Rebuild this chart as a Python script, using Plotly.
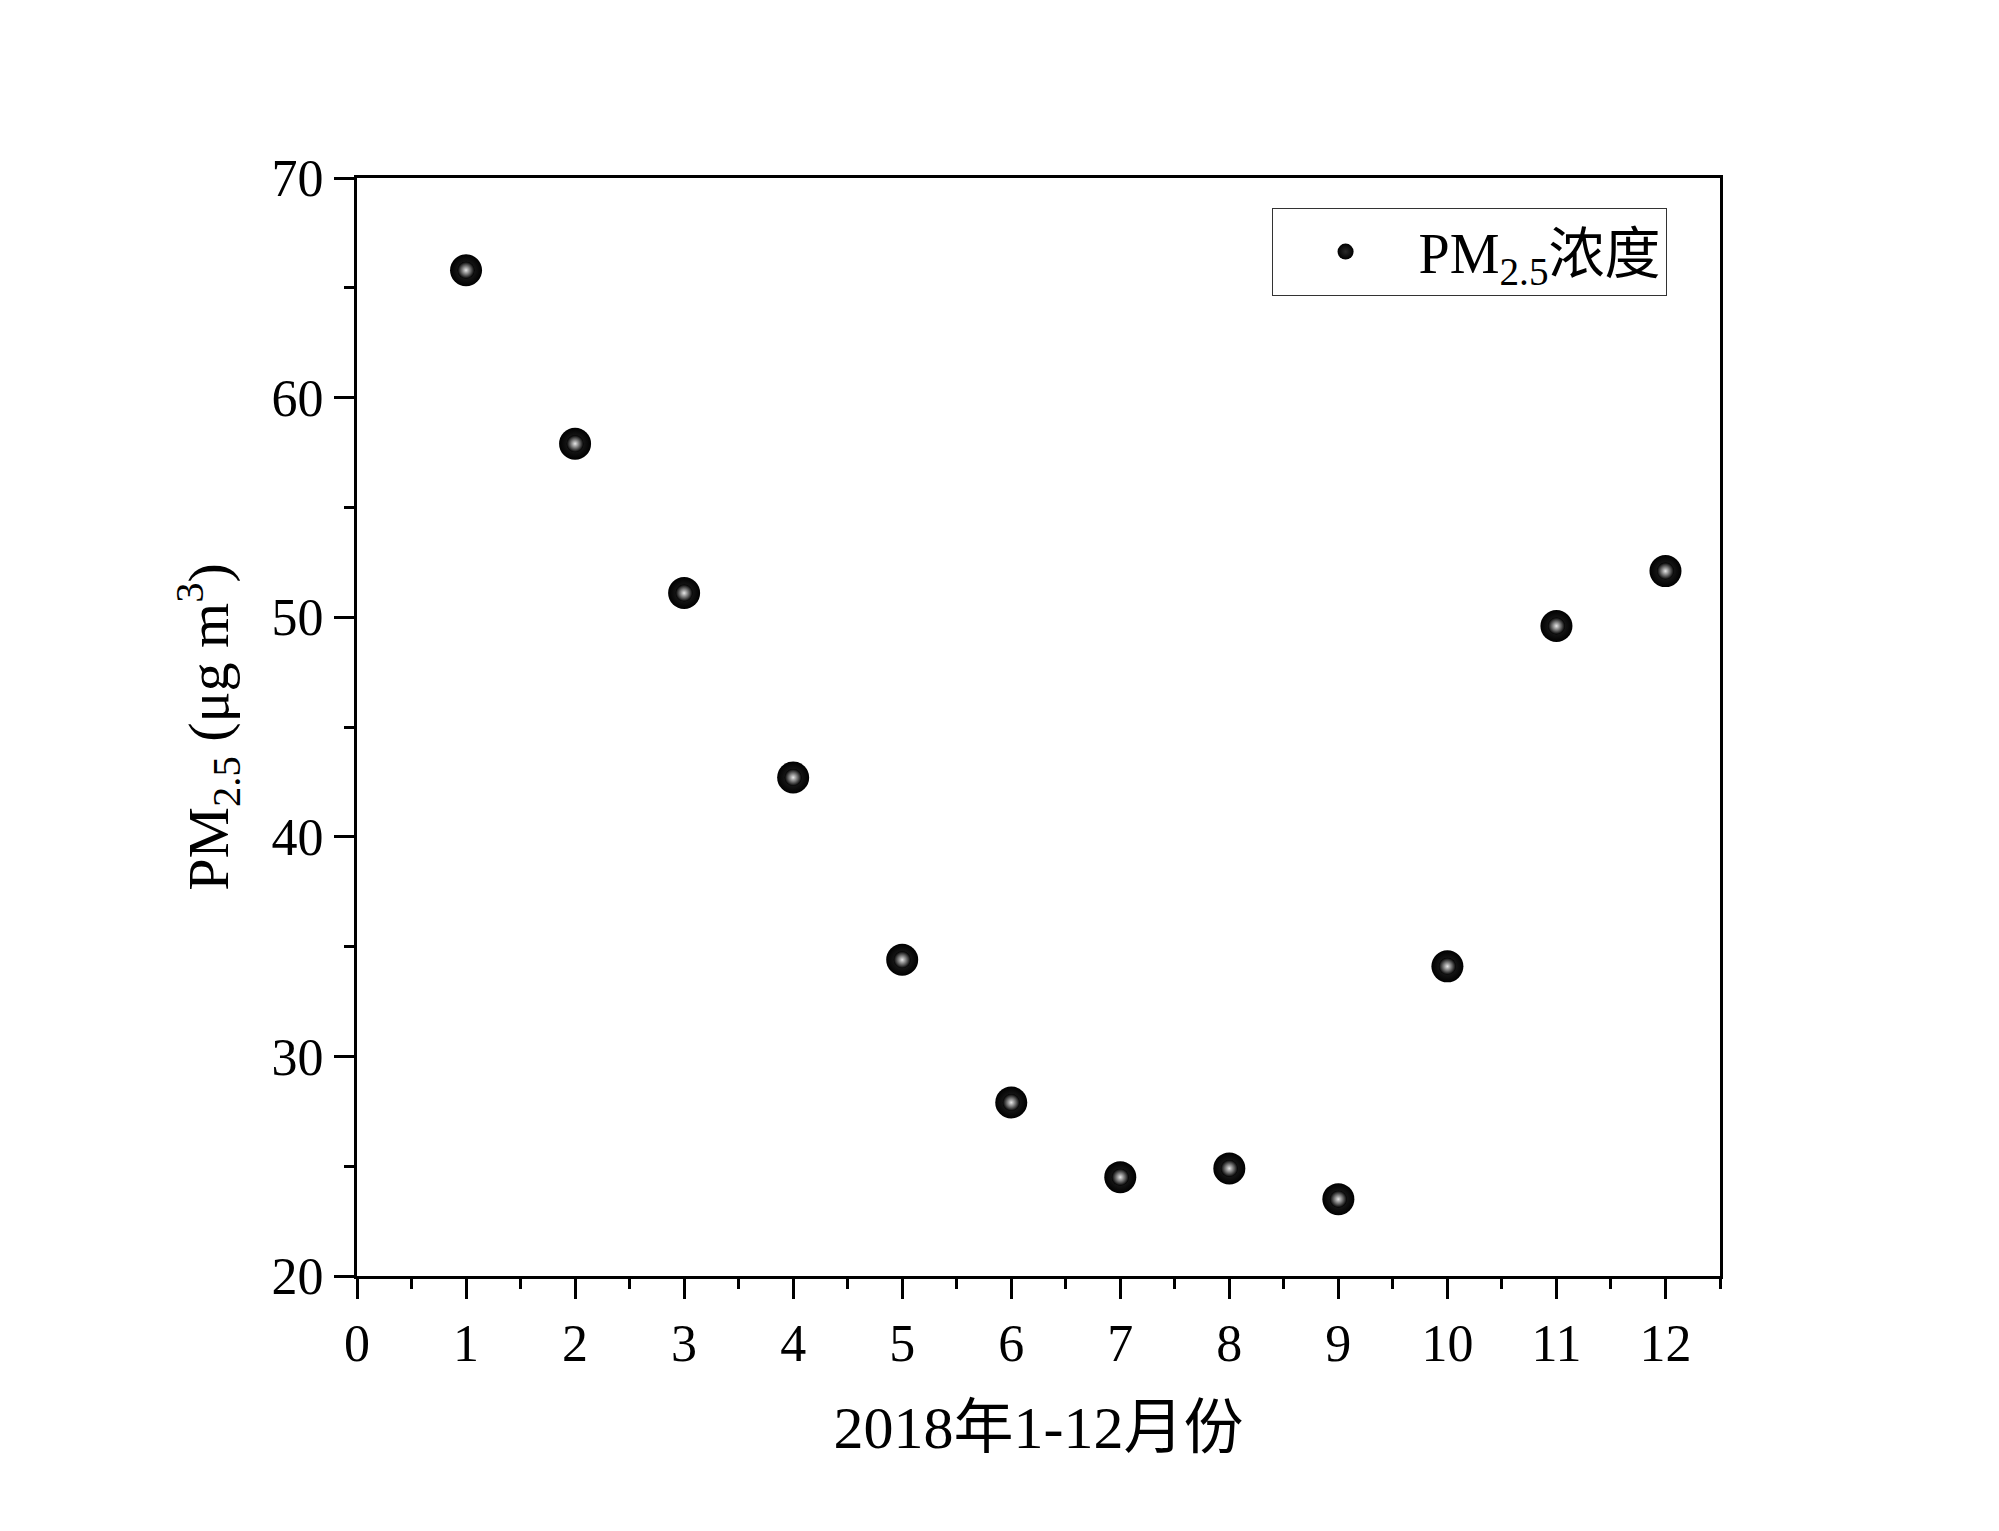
import plotly.graph_objects as go

# Monthly PM2.5 concentration, 2018
months = [1, 2, 3, 4, 5, 6, 7, 8, 9, 10, 11, 12]
pm25 = [65.8, 57.9, 51.1, 42.7, 34.4, 27.9, 24.5, 24.9, 23.5, 34.1, 49.6, 52.1]

x_ticks = list(range(0, 13))
y_ticks = [20, 30, 40, 50, 60, 70]

FONT = "Liberation Serif, Times New Roman, Noto Sans CJK SC, serif"

fig = go.Figure()

# dark sphere body
fig.add_trace(go.Scatter(
    x=months,
    y=pm25,
    mode="markers",
    name="PM<sub>2.5</sub>浓度",
    marker=dict(
        size=32,
        color="black",
        line=dict(width=0),
        gradient=dict(type="radial", color="#2a2a2a"),
    ),
))

# soft highlight on top of each sphere
fig.add_trace(go.Scatter(
    x=months,
    y=pm25,
    mode="markers",
    showlegend=False,
    hoverinfo="skip",
    marker=dict(
        size=17,
        color="black",
        line=dict(width=0),
        gradient=dict(type="radial", color="#e6e6e6"),
    ),
))

axis_common = dict(
    showline=True,
    linecolor="black",
    linewidth=3,
    mirror=True,
    showgrid=False,
    zeroline=False,
    ticks="outside",
    ticklen=20,
    tickwidth=3,
    tickcolor="black",
    tickfont=dict(family=FONT, size=52, color="black"),
)

fig.update_layout(
    width=1999,
    height=1531,
    paper_bgcolor="white",
    plot_bgcolor="white",
    margin=dict(l=349, r=287, t=170, b=263),
    font=dict(family=FONT, color="black"),
    xaxis=dict(
        **axis_common,
        range=[0, 12.5],
        tickvals=x_ticks,
        minor=dict(dtick=0.5, ticklen=10, tickwidth=3, tickcolor="black", ticks="outside"),
        title=dict(text="2018年1-12月份", font=dict(family=FONT, size=60), standoff=35),
    ),
    yaxis=dict(
        **axis_common,
        range=[20, 70],
        tickvals=y_ticks,
        minor=dict(dtick=5, ticklen=10, tickwidth=3, tickcolor="black", ticks="outside"),
        title=dict(text="PM<sub>2.5</sub> (μg m<sup>3</sup>)", font=dict(family=FONT, size=58), standoff=25),
    ),
    legend=dict(
        x=0.671,
        y=0.973,
        xanchor="left",
        yanchor="top",
        bgcolor="white",
        bordercolor="#333333",
        borderwidth=1,
        font=dict(family=FONT, size=56, color="black"),
        itemwidth=136,
        entrywidth=425,
        entrywidthmode="pixels",
    ),
    showlegend=True,
)

fig.write_html("out.html")
